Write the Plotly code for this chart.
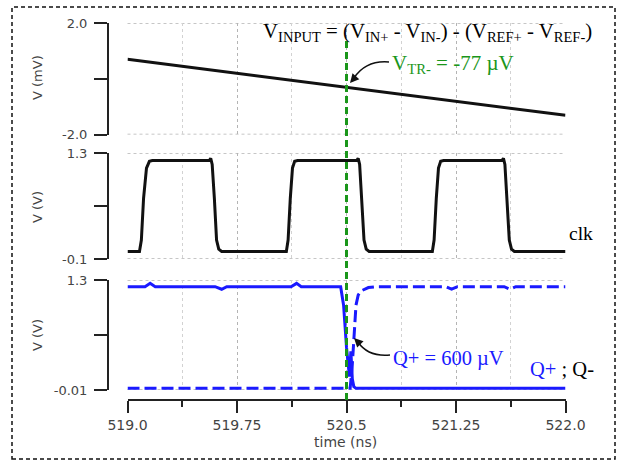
import plotly.graph_objects as go

W, H = 618, 461

# ---------------- data ----------------
t_ramp = [519.0, 522.0]
v_input_mV = [0.70, -1.31]

t_clk = [519.0, 519.082, 519.095, 519.11, 519.13, 519.15, 519.17,
         519.56, 519.57, 519.58, 519.595, 519.61, 519.625, 519.645,
         520.088, 520.10, 520.115, 520.13, 520.145, 520.165,
         520.57, 520.58, 520.59, 520.605, 520.62, 520.635, 520.655,
         521.088, 521.10, 521.115, 521.13, 521.145, 521.165,
         521.565, 521.575, 521.585, 521.60, 521.615, 521.63, 521.65, 522.0]
v_clk = [0.0, 0.0, 0.15, 0.7, 1.1, 1.19, 1.2,
         1.2, 1.23, 1.15, 0.7, 0.15, 0.03, 0.0,
         0.0, 0.15, 0.7, 1.1, 1.19, 1.2,
         1.2, 1.23, 1.15, 0.7, 0.15, 0.03, 0.0,
         0.0, 0.15, 0.7, 1.1, 1.19, 1.2,
         1.2, 1.23, 1.15, 0.7, 0.15, 0.03, 0.0, 0.0]

t_qp = [519.0, 519.12, 519.155, 519.19, 519.6, 519.645, 519.68,
        520.12, 520.158, 520.19, 520.46, 520.48, 520.50, 520.52,
        520.53, 520.54, 520.55, 520.565, 522.0]
v_qp = [1.22, 1.22, 1.26, 1.22, 1.22, 1.19, 1.22,
        1.22, 1.26, 1.22, 1.22, 1.0, 0.5, 0.15,
        0.45, 0.12, 0.03, 0.01, 0.01]

t_qm = [519.0, 520.525, 520.54, 520.555, 520.565, 520.58, 520.60,
        520.65, 520.70, 521.18, 521.22, 521.26, 521.58, 521.62, 521.66, 522.0]
v_qm = [0.01, 0.01, 0.3, 0.8, 1.0, 1.12, 1.17,
        1.21, 1.22, 1.22, 1.19, 1.22, 1.22, 1.19, 1.22, 1.22]

x_ticks = [519.0, 519.75, 520.5, 521.25, 522.0]
x_ticktext = ["519.0", "519.75", "520.5", "521.25", "522.0"]
x_minor = [519.375, 520.125, 520.875, 521.625]

y1_ticks, y1_text, y1_mid = [-2.0, 2.0], ["-2.0", "2.0"], [0.0]
y2_ticks, y2_text, y2_mid = [-0.1, 1.3], ["-0.1", "1.3"], [0.6]
y3_ticks, y3_text, y3_mid = [-0.01, 1.3], ["-0.01", "1.3"], [0.645]

t_trip = 520.5

# ---------------- helpers ----------------
def px(x):
    return x / W

def py(y):
    return 1 - y / H

XDOM = [px(127.5), px(565.5)]
Y1DOM = [py(134.5), py(23)]
Y2DOM = [py(259), py(153)]
Y3DOM = [py(390), py(280)]
YAX_POS = px(108)
XAX_POS = py(400)

AX = "#222222"
TICKCOL = "#444444"
TICKFONT = dict(family="DejaVu Sans", size=13, color=TICKCOL)
GRID_MAJ = "#b4b4b4"
GRID_MIN = "#d2d2d2"
BLUE = "#1a1aff"
GREEN = "#1a961a"
SERIF = "Liberation Serif, Times New Roman, serif"

fig = go.Figure()
fig.add_trace(go.Scatter(x=t_ramp, y=v_input_mV, mode="lines",
                         line=dict(color="#111111", width=3), xaxis="x", yaxis="y"))
fig.add_trace(go.Scatter(x=t_clk, y=v_clk, mode="lines",
                         line=dict(color="#111111", width=3), xaxis="x2", yaxis="y2"))
fig.add_trace(go.Scatter(x=t_qp, y=v_qp, mode="lines",
                         line=dict(color=BLUE, width=3), xaxis="x3", yaxis="y3"))
fig.add_trace(go.Scatter(x=t_qm, y=v_qm, mode="lines",
                         line=dict(color=BLUE, width=3, dash="12px,5px"), xaxis="x3", yaxis="y3"))

def xaxis_common(show):
    d = dict(domain=XDOM, range=[519.0, 522.0], tickvals=x_ticks, ticktext=x_ticktext,
             showgrid=True, gridcolor=GRID_MAJ, griddash="dot", gridwidth=1.2,
             zeroline=False, automargin=False,
             minor=dict(tickvals=x_minor, showgrid=True, gridcolor=GRID_MIN,
                        griddash="dot", gridwidth=1.2,
                        ticks="outside" if show else "", ticklen=6, tickwidth=2, tickcolor=AX))
    if show:
        d.update(anchor="free", position=XAX_POS, showline=True, linecolor=AX, linewidth=2,
                 ticks="outside", ticklen=12, tickwidth=2, tickcolor=AX,
                 tickfont=dict(family="DejaVu Sans", size=14, color=TICKCOL))
    else:
        d.update(showticklabels=False, ticks="", showline=False, matches="x3")
    return d

def yaxis_common(dom, rng, tv, tt, mid):
    return dict(domain=dom, range=rng, tickvals=tv, ticktext=tt, anchor="free",
                position=YAX_POS, automargin=False,
                showline=True, linecolor=AX, linewidth=2,
                ticks="outside", ticklen=13, tickwidth=2, tickcolor=AX,
                ticklabelstandoff=4, tickfont=TICKFONT,
                showgrid=True, gridcolor=GRID_MAJ, griddash="dot", gridwidth=1.2,
                zeroline=False,
                minor=dict(tickvals=mid, ticks="outside", ticklen=13, tickwidth=2,
                           tickcolor=AX, showgrid=False))

fig.update_layout(
    width=W, height=H, margin=dict(l=0, r=0, t=0, b=0, autoexpand=False),
    paper_bgcolor="white", plot_bgcolor="white", showlegend=False,
    xaxis=dict(**xaxis_common(False), anchor="y"),
    xaxis2=dict(**xaxis_common(False), anchor="y2"),
    xaxis3=xaxis_common(True),
    yaxis=yaxis_common(Y1DOM, [-2.0, 2.0], y1_ticks, y1_text, y1_mid),
    yaxis2=yaxis_common(Y2DOM, [-0.1, 1.3], y2_ticks, y2_text, y2_mid),
    yaxis3=yaxis_common(Y3DOM, [-0.01, 1.3], y3_ticks, y3_text, y3_mid),
)

shapes = []
# horizontal dotted gridlines at the panel edges
for yref, tv in (("y", y1_ticks), ("y2", y2_ticks), ("y3", y3_ticks)):
    for v in tv:
        shapes.append(dict(type="line", xref="paper", yref=yref, x0=XDOM[0], x1=XDOM[1],
                           y0=v, y1=v, layer="below",
                           line=dict(color=GRID_MAJ, width=1.3, dash="dot")))
# outer dashed frame
shapes.append(dict(type="rect", xref="paper", yref="paper",
                   x0=px(12), x1=px(615), y0=py(459), y1=py(7),
                   line=dict(color="#111111", width=1.5, dash="4px,3px")))
# trip-point vertical line
shapes.append(dict(type="line", xref="x3", yref="paper", x0=t_trip, x1=t_trip,
                   y0=py(400), y1=py(37), line=dict(color=GREEN, width=3, dash="7px,4px")))
# curved arrows
shapes.append(dict(type="path", xref="paper", yref="paper",
                   path=f"M {px(389)},{py(62)} Q {px(366)},{py(60)} {px(354)},{py(78)}",
                   line=dict(color="#111111", width=1.5)))
shapes.append(dict(type="path", xref="paper", yref="paper",
                   path=f"M {px(390)},{py(355)} Q {px(368)},{py(357)} {px(358)},{py(342)}",
                   line=dict(color="#111111", width=1.5)))
fig.update_layout(shapes=shapes)

ann = []
def text(x, y, s, size, color="#000000", xanchor="left", family=SERIF, angle=0):
    ann.append(dict(x=px(x), y=py(y), xref="paper", yref="paper", text=s, showarrow=False,
                    xanchor=xanchor, yanchor="middle", textangle=angle,
                    font=dict(family=family, size=size, color=color)))

text(261, 32, "V<sub>INPUT</sub> = (V<sub>IN+</sub> - V<sub>IN-</sub>) - (V<sub>REF+</sub> - V<sub>REF-</sub>)", 20.8)
text(390, 64, "V<sub>TR-</sub> = -77 µV", 21, GREEN)
text(391, 358, "Q+ = 600 µV", 20.5, BLUE)
text(528, 369, f"<span style='color:{BLUE}'>Q+</span> ; Q-", 20.5)
text(567, 233, "clk", 19.5)
text(37, 78, "V (mV)", 13, TICKCOL, "center", "DejaVu Sans", -90)
text(37, 207, "V (V)", 13, TICKCOL, "center", "DejaVu Sans", -90)
text(37, 335, "V (V)", 13, TICKCOL, "center", "DejaVu Sans", -90)
text(345, 442, "time (ns)", 14, TICKCOL, "center", "DejaVu Sans")

# arrowheads
for (tx, ty, ax, ay) in [(350, 83, 7, -8), (354, 338, 7, 7)]:
    ann.append(dict(x=px(tx), y=py(ty), xref="paper", yref="paper", text="", showarrow=True,
                    ax=ax, ay=ay, arrowhead=2, arrowsize=1.2, arrowwidth=1.5,
                    arrowcolor="#111111"))
fig.update_layout(annotations=ann)

fig.write_html("out.html")
